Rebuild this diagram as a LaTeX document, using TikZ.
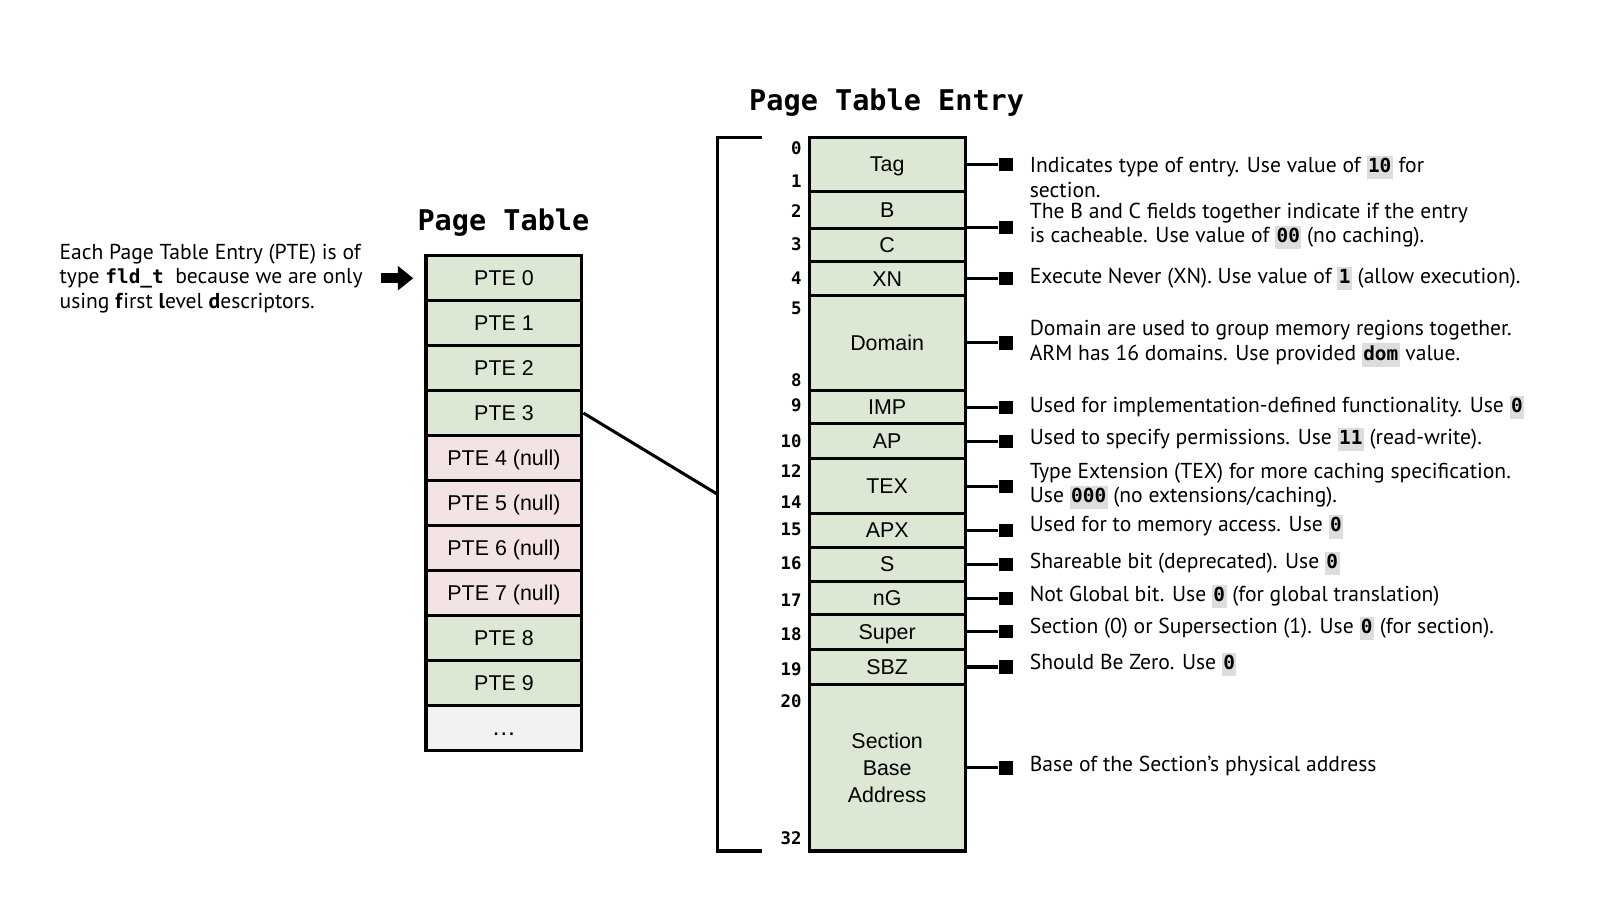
\documentclass[tikz,border=0pt]{standalone}
\usepackage{fontspec}
\setmainfont{PT Sans}
\newfontfamily\helv{Liberation Sans}
\setmonofont{DejaVu Sans Mono}
\usetikzlibrary{arrows.meta}
\definecolor{fgreen}{HTML}{DCE8D4}
\definecolor{fpink}{HTML}{F3E3E3}
\definecolor{fgray}{HTML}{F2F2F2}
\definecolor{codegray}{HTML}{DDDDDD}
\newcommand{\hcode}[1]{{\setlength{\fboxsep}{0.7pt}\colorbox{codegray}{\rule[-2.5pt]{0pt}{10pt}\ttfamily\bfseries\fontsize{9.5}{12}\selectfont #1}}}
\newcommand{\nodp}[1]{{\setbox0\hbox{#1}\dp0=0pt\box0}}
\newcommand{\entryfield}[4]{%
  \pgfmathsetmacro\efc{(#2+#3)/2}%
  \pgfmathsetmacro\efh{(#3-#2)*0.5}%
  \node[field, minimum height=\efh pt] (#1) at (870.5,\efc) {#4};%
}
\begin{document}
\begin{tikzpicture}[x=0.5pt, y=-0.5pt, line width=1.5pt,
  field/.style={draw, fill=fgreen, minimum width=76.5pt, inner sep=0pt, align=center,
    font=\helv\fontsize{10.5}{13.25}\selectfont},
  ptebox/.style={draw, fill=fgreen, minimum width=76.5pt, minimum height=22pt, inner sep=0pt,
    text height=7.6pt, text depth=0pt, font=\helv\fontsize{10.5}{12}\selectfont},
  bitnum/.style={anchor=east, inner sep=0pt, font=\ttfamily\bfseries\fontsize{8.5}{10}\selectfont},
  desc/.style={anchor=west, align=left, inner sep=0pt, font=\fontsize{10.6}{12}\selectfont},
  sq/.style={fill=black, draw=none, minimum size=6.5pt, inner sep=0pt},
  ttl/.style={font=\ttfamily\bfseries\fontsize{14}{16}\selectfont, inner sep=0pt}]
\useasboundingbox (0,0) rectangle (1568,887);

% titles
\node[ttl] (ttlpt) at (494,218) {Page Table};
\node[ttl] (ttlpte) at (870,101) {Page Table Entry};

% page table
\foreach \i/\lab/\col in {0/PTE 0/fgreen,1/PTE 1/fgreen,2/PTE 2/fgreen,3/PTE 3/fgreen,
  4/PTE 4 (null)/fpink,5/PTE 5 (null)/fpink,6/PTE 6 (null)/fpink,7/PTE 7 (null)/fpink,
  8/PTE 8/fgreen,9/PTE 9/fgreen,10/{\fontsize{12}{12}\selectfont\dots}/fgray}
  \node[ptebox, fill=\col] (pte\i) at (494.5,{273+44.1*\i}) {\lab};

% left note and arrow
\node[desc] (note) at (57,273) {Each Page Table Entry (PTE) is of\\
  type {\ttfamily\bfseries\fontsize{9.5}{12}\selectfont fld\_t}\ \ because we are only\\
  using \textbf{f}irst \textbf{l}evel \textbf{d}escriptors.};
\coordinate (arrstart) at (374,273);
\draw[line width=5pt, -{Triangle[length=7.5pt, width=11.5pt]}, shorten >=5.5pt] (arrstart) -- (pte0.west);

% entry fields
\entryfield{tag}{135}{188}{\nodp{Tag}}
\entryfield{fb}{188}{224}{B}
\entryfield{fc}{224}{257}{C}
\entryfield{xn}{257}{290}{XN}
\entryfield{dom}{290}{383}{Domain}
\entryfield{imp}{383}{416}{IMP}
\entryfield{ap}{416}{450}{AP}
\entryfield{tex}{450}{504}{TEX}
\entryfield{apx}{504}{537}{APX}
\entryfield{fs}{537}{571}{S}
\entryfield{ng}{571}{603}{\nodp{nG}}
\entryfield{super}{603}{637}{\nodp{Super}}
\entryfield{sbz}{637}{672}{SBZ}
\entryfield{sba}{672}{835}{Section\\Base\\Address}

% bit numbers
\foreach \n/\y in {0/145,1/178,2/207,3/240,4/273,5/303,8/373,9/398,10/433,12/462,14/493,15/519,16/553,17/589,18/622,19/657,20/688,32/822}
  \node[bitnum] (bit\n) at (788,\y) {\n};

% bracket and zoom line
\coordinate (brt) at (748,135);
\coordinate (brtc) at (704,135);
\coordinate (brbc) at (704,835);
\coordinate (brb) at (748,835);
\coordinate (brmid) at (704,485);
\draw (brt) -- (brtc) -- (brbc) -- (brb);
\draw (pte3.east) -- (brmid);

% connectors with squares
\foreach \f in {tag,xn,dom,imp,ap,tex,apx,fs,ng,super,sbz,sba}{
  \path (\f.east) ++(38.5,0) node[sq] (sq\f) {};
  \draw (\f.east) -- (sq\f);
}
\path (fb.south east) ++(38.5,-2) node[sq] (sqbc) {};
\draw (fb.south east) ++(0,-2) -- (sqbc);

% descriptions
\node[desc] (dtag) at (1009,173.5) {Indicates type of entry. Use value of \hcode{10} for\\section.};
\node[desc] (dbc) at (1009,222) {The B and C fields together indicate if the entry\\is cacheable. Use value of \hcode{00} (no caching).};
\node[desc] (dxn) at (1009,273) {Execute Never (XN). Use value of \hcode{1} (allow execution).};
\node[desc] (ddom) at (1009,337) {Domain are used to group memory regions together.\\ARM has 16 domains. Use provided \hcode{dom} value.};
\node[desc] (dimp) at (1009,400) {Used for implementation-defined functionality. Use \hcode{0}};
\node[desc] (dap) at (1009,431) {Used to specify permissions. Use \hcode{11} (read-write).};
\node[desc] (dtex) at (1009,477) {Type Extension (TEX) for more caching specification.\\Use \hcode{000} (no extensions/caching).};
\node[desc] (dapx) at (1009,517) {Used for to memory access. Use \hcode{0}};
\node[desc] (ds) at (1009,553) {Shareable bit (deprecated). Use \hcode{0}};
\node[desc] (dng) at (1009,585) {Not Global bit. Use \hcode{0} (for global translation)};
\node[desc] (dsuper) at (1009,617) {Section (0) or Supersection (1). Use \hcode{0} (for section).};
\node[desc] (dsbz) at (1009,652) {Should Be Zero. Use \hcode{0}};
\node[desc] (dsba) at (1009,752) {Base of the Section’s physical address};
\end{tikzpicture}
\end{document}
